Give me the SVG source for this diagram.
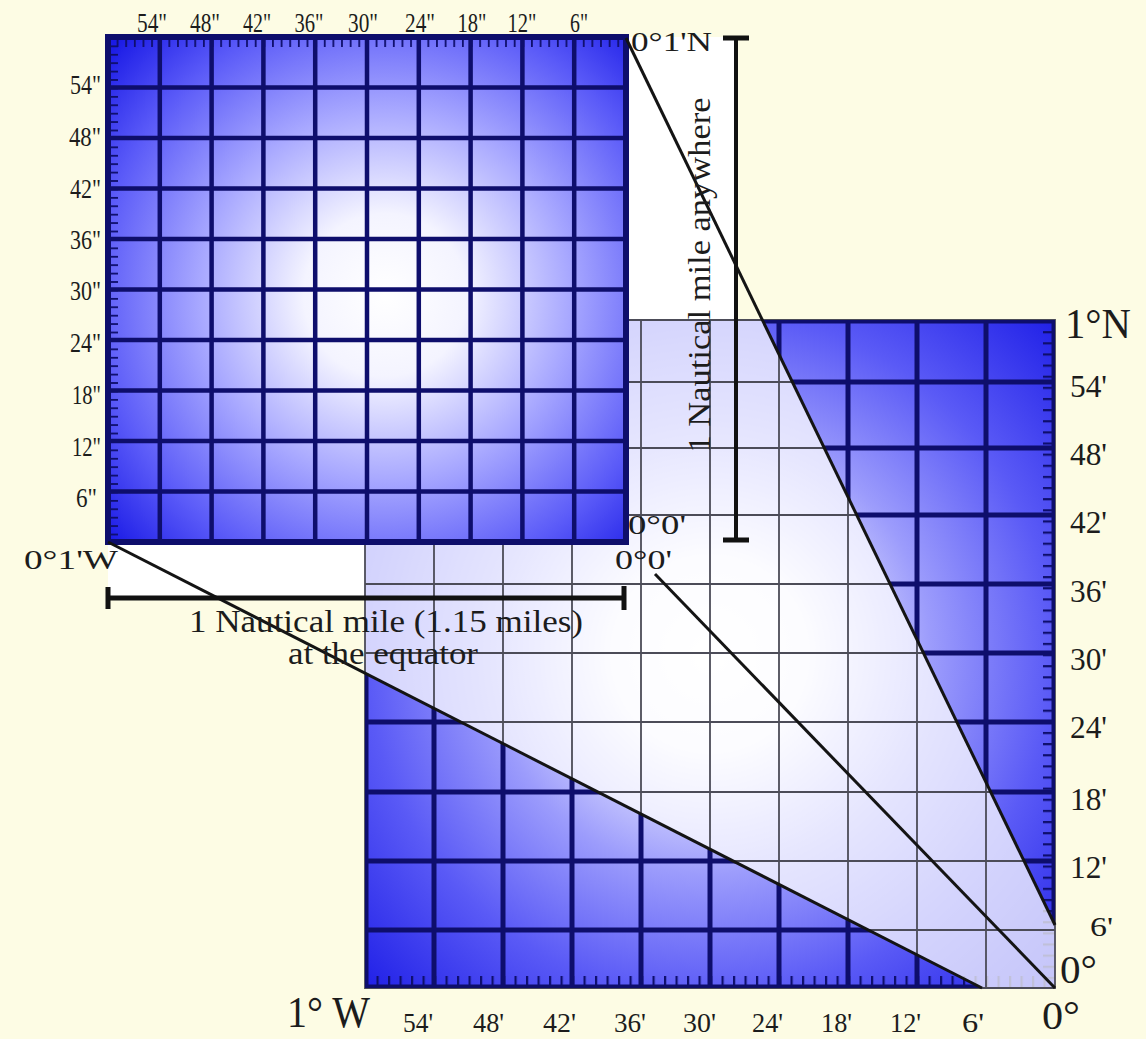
<svg xmlns="http://www.w3.org/2000/svg" width="1146" height="1039" viewBox="0 0 1146 1039">
  <style>
    .lbl { font-family: "Liberation Serif", "Times New Roman", serif; fill: #1c1c1c; }
    .navy { fill: none; stroke: #0e0e6c; stroke-width: 5; }
    .thin { fill: none; stroke: #4c4c58; stroke-width: 1.8; }
    .proj { fill: none; stroke: #141414; stroke-width: 3; }
    .bar { fill: none; stroke: #111; stroke-width: 5; }
  </style>
  <defs>
    <radialGradient id="gSmall" gradientUnits="userSpaceOnUse" cx="385" cy="295" r="370">
      <stop offset="0" stop-color="#ffffff"/>
      <stop offset="0.22" stop-color="#f4f4ff"/>
      <stop offset="0.5" stop-color="#a8a8ff"/>
      <stop offset="0.78" stop-color="#5a5af8"/>
      <stop offset="1" stop-color="#1a1ae6"/>
    </radialGradient>
    <radialGradient id="gBig" gradientUnits="userSpaceOnUse" cx="710" cy="654" r="490">
      <stop offset="0" stop-color="#ffffff"/>
      <stop offset="0.2" stop-color="#f2f2ff"/>
      <stop offset="0.45" stop-color="#9c9cfc"/>
      <stop offset="0.7" stop-color="#5a5af6"/>
      <stop offset="1" stop-color="#1c1ce6"/>
    </radialGradient>
    <pattern id="tkST" x="108" y="37" width="8.633" height="10" patternUnits="userSpaceOnUse">
      <rect x="0" y="0" width="1.8" height="10" fill="#0e0e6c"/>
    </pattern>
    <pattern id="tkSL" x="108" y="37" width="10" height="8.417" patternUnits="userSpaceOnUse">
      <rect x="0" y="0" width="10" height="1.8" fill="#0e0e6c"/>
    </pattern>
    <pattern id="tkBR" x="1043" y="320" width="12" height="11.133" patternUnits="userSpaceOnUse">
      <rect x="0" y="0" width="12" height="2.2" fill="#0e0e6c"/>
    </pattern>
    <pattern id="tkBB" x="365" y="976" width="11.5" height="12" patternUnits="userSpaceOnUse">
      <rect x="0" y="0" width="2.2" height="12" fill="#0e0e6c"/>
    </pattern>
    <clipPath id="cpBig">
      <rect x="365" y="320" width="690" height="668"/>
    </clipPath>
    <clipPath id="cpOut">
      <polygon points="365,672 982,988 365,988"/>
      <polygon points="763,320 1055,320 1055,925"/>
    </clipPath>
  </defs>

  <g id="background">
    <rect x="0" y="0" width="1146" height="1039" fill="#fdfce4"/>
    <rect x="108" y="37" width="629" height="561" fill="#ffffff"/>
  </g>

  <g id="big-grid">
    <rect x="365" y="320" width="690" height="668" fill="url(#gBig)"/>
    <rect x="1043" y="320" width="12" height="668" fill="url(#tkBR)"/>
    <rect x="365" y="976" width="690" height="12" fill="url(#tkBB)"/>
    <polygon points="626,37 1055,925 1055,988 982,988 108,542" fill="#ffffff" fill-opacity="0.74" clip-path="url(#cpBig)"/>
    <path class="thin" d="M434 320V988M503 320V988M572 320V988M641 320V988M710 320V988M779 320V988M848 320V988M917 320V988M986 320V988M365 382H1055M365 448H1055M365 515H1055M365 584H1055M365 653H1055M365 722H1055M365 792H1055M365 861H1055M365 930H1055M365 320H1055V988H365Z"/>
    <g clip-path="url(#cpOut)">
      <path class="navy" d="M434 320V988M503 320V988M572 320V988M641 320V988M710 320V988M779 320V988M848 320V988M917 320V988M986 320V988M365 382H1055M365 448H1055M365 515H1055M365 584H1055M365 653H1055M365 722H1055M365 792H1055M365 861H1055M365 930H1055"/>
      <path class="navy" style="stroke-width:7" d="M365 320H1055V988H365Z"/>
    </g>
  </g>

  <g id="small-grid">
    <rect x="108" y="37" width="518" height="505" fill="url(#gSmall)"/>
    <rect x="108" y="37" width="518" height="10" fill="url(#tkST)"/>
    <rect x="108" y="37" width="10" height="505" fill="url(#tkSL)"/>
    <path class="navy" style="stroke-width:4.5" d="M159.8 37V542M211.6 37V542M263.4 37V542M315.2 37V542M367 37V542M418.8 37V542M470.6 37V542M522.4 37V542M574.2 37V542M108 87.5H626M108 138H626M108 188.5H626M108 239H626M108 289.5H626M108 340H626M108 390.5H626M108 441H626M108 491.5H626"/>
    <rect x="108" y="37" width="518" height="505" fill="none" stroke="#0e0e6c" stroke-width="6"/>
  </g>

  <g id="connectors">
    <path class="proj" d="M626 38L1055 925"/>
    <path class="proj" d="M108 542L982 988"/>
    <path class="proj" d="M655 574L1055 988"/>
  </g>

  <g id="scale-bars">
    <path class="bar" d="M108 598H625M108 587V609M624 586V610"/>
    <path class="bar" style="stroke-width:4" d="M736 38V540"/>
    <path class="bar" d="M723 38H749M723 540H749"/>
  </g>

  <g id="small-labels" class="lbl" font-size="27">
    <text x="152" y="32" text-anchor="middle" textLength="30" lengthAdjust="spacingAndGlyphs">54"</text>
    <text x="205" y="32" text-anchor="middle" textLength="30" lengthAdjust="spacingAndGlyphs">48"</text>
    <text x="257" y="32" text-anchor="middle" textLength="28" lengthAdjust="spacingAndGlyphs">42"</text>
    <text x="309" y="32" text-anchor="middle" textLength="29" lengthAdjust="spacingAndGlyphs">36"</text>
    <text x="363" y="32" text-anchor="middle" textLength="30" lengthAdjust="spacingAndGlyphs">30"</text>
    <text x="420" y="32" text-anchor="middle" textLength="30" lengthAdjust="spacingAndGlyphs">24"</text>
    <text x="472" y="32" text-anchor="middle" textLength="29" lengthAdjust="spacingAndGlyphs">18"</text>
    <text x="522" y="32" text-anchor="middle" textLength="29" lengthAdjust="spacingAndGlyphs">12"</text>
    <text x="579" y="32" text-anchor="middle" textLength="18" lengthAdjust="spacingAndGlyphs">6"</text>
    <text x="101" y="94" text-anchor="end" textLength="31" lengthAdjust="spacingAndGlyphs">54"</text>
    <text x="101" y="146" text-anchor="end" textLength="32" lengthAdjust="spacingAndGlyphs">48"</text>
    <text x="101" y="198" text-anchor="end" textLength="31" lengthAdjust="spacingAndGlyphs">42"</text>
    <text x="101" y="249" text-anchor="end" textLength="31" lengthAdjust="spacingAndGlyphs">36"</text>
    <text x="101" y="300" text-anchor="end" textLength="31" lengthAdjust="spacingAndGlyphs">30"</text>
    <text x="101" y="352" text-anchor="end" textLength="31" lengthAdjust="spacingAndGlyphs">24"</text>
    <text x="101" y="404" text-anchor="end" textLength="29" lengthAdjust="spacingAndGlyphs">18"</text>
    <text x="101" y="456" text-anchor="end" textLength="29" lengthAdjust="spacingAndGlyphs">12"</text>
    <text x="97" y="507" text-anchor="end" textLength="21" lengthAdjust="spacingAndGlyphs">6"</text>
  </g>

  <g id="corner-labels" class="lbl" font-size="28">
    <text x="631" y="51" textLength="81" lengthAdjust="spacingAndGlyphs">0°1'N</text>
    <text x="24" y="569" textLength="94" lengthAdjust="spacingAndGlyphs">0°1'W</text>
    <text x="628" y="534" textLength="58" lengthAdjust="spacingAndGlyphs">0°0'</text>
    <text x="615" y="569" textLength="57" lengthAdjust="spacingAndGlyphs">0°0'</text>
  </g>

  <g id="scale-labels" class="lbl" font-size="31">
    <text x="386" y="632" text-anchor="middle" textLength="394" lengthAdjust="spacingAndGlyphs">1 Nautical mile (1.15 miles)</text>
    <text x="383" y="664" text-anchor="middle" textLength="190" lengthAdjust="spacingAndGlyphs">at the equator</text>
    <text transform="translate(710,275) rotate(-90)" text-anchor="middle" textLength="355" lengthAdjust="spacingAndGlyphs">1 Nautical mile anywhere</text>
  </g>

  <g id="big-labels" class="lbl" font-size="32">
    <text x="1065" y="338" font-size="42" textLength="66" lengthAdjust="spacingAndGlyphs">1°N</text>
    <text x="1070" y="397" textLength="37" lengthAdjust="spacingAndGlyphs">54'</text>
    <text x="1070" y="465" textLength="37" lengthAdjust="spacingAndGlyphs">48'</text>
    <text x="1070" y="533" textLength="37" lengthAdjust="spacingAndGlyphs">42'</text>
    <text x="1070" y="602" textLength="37" lengthAdjust="spacingAndGlyphs">36'</text>
    <text x="1070" y="670" textLength="37" lengthAdjust="spacingAndGlyphs">30'</text>
    <text x="1070" y="738" textLength="37" lengthAdjust="spacingAndGlyphs">24'</text>
    <text x="1070" y="810" textLength="37" lengthAdjust="spacingAndGlyphs">18'</text>
    <text x="1070" y="878" textLength="37" lengthAdjust="spacingAndGlyphs">12'</text>
    <text x="1090" y="936" font-size="28" textLength="23" lengthAdjust="spacingAndGlyphs">6'</text>
    <text x="1060" y="983" font-size="40" textLength="37" lengthAdjust="spacingAndGlyphs">0°</text>
    <text x="1042" y="1029" font-size="40" textLength="38" lengthAdjust="spacingAndGlyphs">0°</text>
    <text x="287" y="1027" font-size="44" textLength="83" lengthAdjust="spacingAndGlyphs">1° W</text>
    <text x="403" y="1032" font-size="28" textLength="30" lengthAdjust="spacingAndGlyphs">54'</text>
    <text x="473" y="1032" font-size="28" textLength="31" lengthAdjust="spacingAndGlyphs">48'</text>
    <text x="543" y="1032" font-size="28" textLength="33" lengthAdjust="spacingAndGlyphs">42'</text>
    <text x="614" y="1032" font-size="28" textLength="32" lengthAdjust="spacingAndGlyphs">36'</text>
    <text x="683" y="1032" font-size="28" textLength="33" lengthAdjust="spacingAndGlyphs">30'</text>
    <text x="752" y="1032" font-size="28" textLength="31" lengthAdjust="spacingAndGlyphs">24'</text>
    <text x="821" y="1032" font-size="28" textLength="31" lengthAdjust="spacingAndGlyphs">18'</text>
    <text x="890" y="1032" font-size="28" textLength="31" lengthAdjust="spacingAndGlyphs">12'</text>
    <text x="962" y="1032" font-size="28" textLength="22" lengthAdjust="spacingAndGlyphs">6'</text>
  </g>
</svg>
